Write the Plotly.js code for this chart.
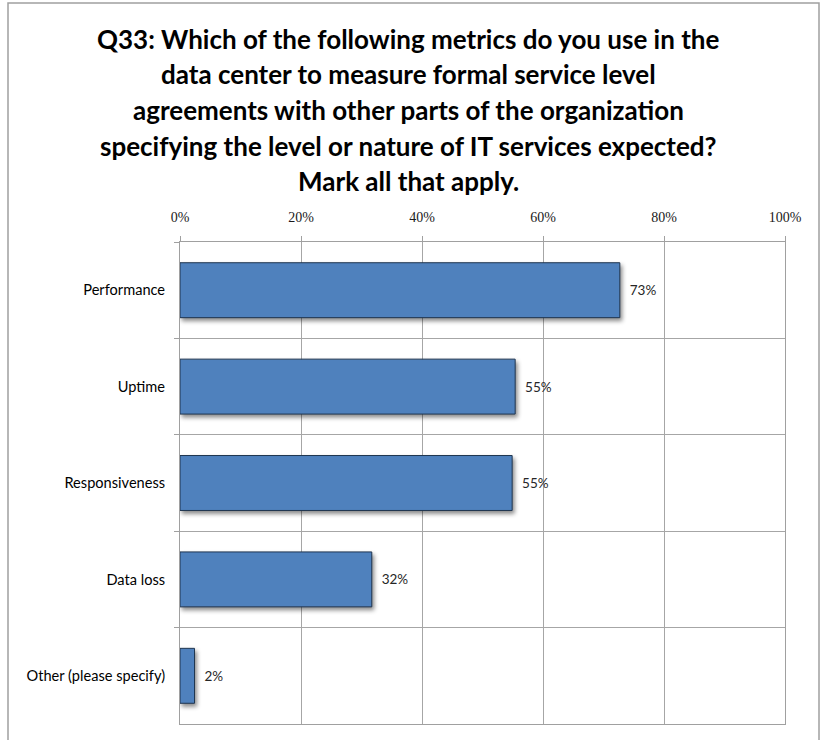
<!DOCTYPE html>
<html>
<head>
<meta charset="utf-8">
<script src="https://cdn.plot.ly/plotly-3.0.1.min.js"></script>
<style>
  html, body { margin: 0; padding: 0; background: #fff; }
  #chart { width: 820px; height: 740px; }
  #chart .trace.bars .point path { filter: drop-shadow(2px 3px 2px rgba(0,0,0,0.45)); }
</style>
</head>
<body>
<div id="chart"></div>
<script>
// ---- data ----
const categories = ["Performance", "Uptime", "Responsiveness", "Data loss", "Other (please specify)"];
const shares = [0.727, 0.554, 0.549, 0.317, 0.024];
const tickValues = [0, 0.2, 0.4, 0.6, 0.8, 1.0];
const tickLabels = ["0%", "20%", "40%", "60%", "80%", "100%"];
const titleLines = [
  "Q33: Which of the following metrics do you use in the",
  "data center to measure formal service level",
  "agreements with other parts of the organization",
  "specifying the level or nature of IT services expected?",
  "Mark all that apply."
];

// ---- layout geometry (pixels) ----
const W = 820, H = 740;
const plotL = 180, plotR = 785, plotT = 242, plotB = 724;
const plotW = plotR - plotL, plotH = plotB - plotT;
const px2x = p => (p - plotL) / plotW;
const py2y = p => (plotB - p) / plotH;

const titleCenters = [39, 74.5, 110, 145.5, 181];
const titleAnnotations = titleLines.map((t, i) => ({
  text: "<b>" + t + "</b>",
  xref: "paper", yref: "paper",
  x: px2x(408), y: py2y(titleCenters[i]),
  xanchor: "center", yanchor: "middle",
  showarrow: false,
  font: { family: "Lato, 'Open Sans', sans-serif", size: 26, color: "#000000" }
}));

const trace = {
  type: "bar",
  orientation: "h",
  y: categories,
  x: shares,
  width: 0.57,
  marker: { color: "#4F81BD", line: { color: "#1F3550", width: 1 } },
  texttemplate: "\u00a0\u00a0%{x:.0%}",
  textposition: "outside",
  cliponaxis: false,
  textfont: { family: "Lato, 'Open Sans', sans-serif", size: 13.5, color: "#262626" },
  hoverinfo: "none"
};

const layout = {
  width: W, height: H,
  margin: { l: plotL, r: W - plotR, t: plotT, b: H - plotB, pad: 0 },
  paper_bgcolor: "#ffffff",
  plot_bgcolor: "#ffffff",
  showlegend: false,
  bargap: 0.43,
  xaxis: {
    side: "top",
    range: [0, 1],
    tickvals: tickValues,
    ticktext: tickLabels,
    ticks: "outside", ticklen: 5, tickcolor: "#a0a0a0", tickwidth: 1,
    ticklabelstandoff: 8,
    showgrid: true, gridcolor: "#a6a6a6", gridwidth: 1,
    zeroline: false,
    showline: true, mirror: true, linecolor: "#a0a0a0", linewidth: 1,
    tickfont: { family: "'Liberation Serif', 'DejaVu Serif', serif", size: 14, color: "#1a1a1a" },
    fixedrange: true
  },
  yaxis: {
    type: "category",
    categoryorder: "array",
    categoryarray: categories,
    autorange: "reversed",
    tickson: "boundaries",
    ticks: "outside", ticklen: 5, tickcolor: "#a0a0a0", tickwidth: 1,
    ticklabelstandoff: 11,
    showgrid: true, gridcolor: "#a6a6a6", gridwidth: 1,
    zeroline: false,
    showline: true, mirror: true, linecolor: "#a0a0a0", linewidth: 1,
    tickfont: { family: "Lato, 'Open Sans', sans-serif", size: 14.6, color: "#000000" },
    fixedrange: true
  },
  annotations: titleAnnotations,
  shapes: [{
    type: "rect", xref: "paper", yref: "paper", layer: "below",
    x0: px2x(8), x1: px2x(819), y0: py2y(760), y1: py2y(3),
    line: { color: "#a0a0a0", width: 1.5 }, fillcolor: "rgba(0,0,0,0)"
  }]
};

Plotly.newPlot("chart", [trace], layout, { staticPlot: true, displayModeBar: false });
</script>
</body>
</html>
